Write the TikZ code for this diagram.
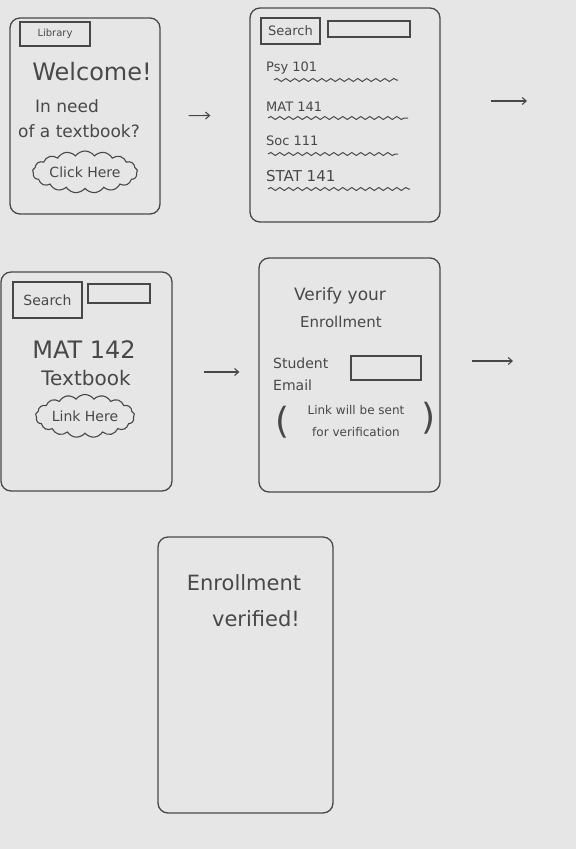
\documentclass[tikz,border=0pt]{standalone}
\usepackage{fontspec}
\setmainfont{DejaVu Sans}
\usetikzlibrary{shapes.symbols,decorations.pathmorphing,arrows.meta}
\definecolor{pencil}{RGB}{72,72,72}
\definecolor{paper}{RGB}{229,230,229}
\newcommand{\penfont}[2]{\fontsize{#1}{#2}\selectfont}

\begin{document}
\begin{tikzpicture}[x=1pt,y=-1pt,
    screen/.style={draw=pencil, line width=1.3pt, rounded corners=10pt, inner sep=0pt},
    tab/.style={draw=pencil, line width=1.1pt, inner sep=0pt, text=pencil},
    ink/.style={text=pencil, inner sep=0pt},
    button/.style={cloud, cloud ignores aspect, draw=pencil, line width=1.1pt, cloud puffs=17,
        cloud puff arc=110, inner sep=0pt, text=pencil},
    wave/.style={draw=pencil, line width=1pt, decorate,
        decoration={snake, amplitude=1.5pt, segment length=9pt}},
    flow/.style={draw=pencil, line width=1.1pt, -{Straight Barb[length=4pt,width=7pt]}}]

    \fill[paper] (0,0) rectangle (576,849);
    \useasboundingbox (0,0) rectangle (576,849);

    % screens
    \node[screen, minimum width=150, minimum height=196] (library) at (85,116) {};
    \node[screen, minimum width=190, minimum height=214] (search) at (345,115) {};
    \node[screen, minimum width=171, minimum height=219] (textbook) at (86.5,381.5) {};
    \node[screen, minimum width=181, minimum height=234] (verify) at (349.5,375) {};
    \node[screen, minimum width=175, minimum height=276] (verified) at (245.5,675) {};

    % library
    \node[tab, minimum width=70, minimum height=24, font=\penfont{10}{12}] (libtab) at (55,34) {Library};
    \node[ink, font=\penfont{24}{28}] (welcome) at (92,72) {Welcome!};
    \node[ink, anchor=west, font=\penfont{17}{20}] (need) at (35,106) {In need};
    \node[ink, anchor=west, font=\penfont{17}{20}] (textq) at (18,131) {of a textbook?};
    \node[button, minimum width=105, minimum height=42, font=\penfont{14}{16}] (click) at (85,172) {Click Here};

    % search
    \node[tab, minimum width=59, minimum height=26, font=\penfont{13}{15}] (searchtab) at (290.5,31) {Search};
    \node[tab, minimum width=82, minimum height=16] (searchbox) at (369,29) {};
    \foreach \i/\course/\size/\y/\wl/\wr/\wy in {1/Psy 101/13/68/274/398/80,
        2/MAT 141/13/107/268/408/118,
        3/Soc 111/13/141/268/398/154,
        4/STAT 141/15/176/268/410/189}
    {
        \node[ink, anchor=west, font=\penfont{\size}{15}] (item\i) at (266,\y) {\course};
        \draw[wave] (\wl,\wy) -- (\wr,\wy);
    }

    % textbook
    \node[tab, minimum width=69, minimum height=36, font=\penfont{14}{16}] (booktab) at (47.5,300) {Search};
    \node[tab, minimum width=62, minimum height=19] (bookbox) at (119,293.5) {};
    \node[ink, font=\penfont{24}{28}] (course) at (84,350) {MAT 142};
    \node[ink, font=\penfont{20}{24}] (book) at (86,378) {Textbook};
    \node[button, minimum width=99, minimum height=43, font=\penfont{14}{16}] (link) at (85,416) {Link Here};

    % verify
    \node[ink, font=\penfont{17}{20}] (title) at (340,296) {Verify your};
    \node[ink, font=\penfont{15}{18}] (enrol) at (341,322) {Enrollment};
    \node[ink, align=left, anchor=west, font=\penfont{14}{22}] (email) at (273,374) {Student\\Email};
    \node[tab, minimum width=70, minimum height=24] (emailbox) at (386,368) {};
    \node[ink, align=center, font=\penfont{12}{22}] (note) at (356,421) {Link will be sent\\for verification};
    \node[ink, font=\penfont{36}{40}] (lparen) at (283,422) {(};
    \node[ink, font=\penfont{36}{40}] (rparen) at (429,418) {)};

    % verified
    \node[ink, align=center, font=\penfont{21}{36}] (done) at (244,601) {Enrollment\\\hspace*{24pt}verified!};

    % flow
    \coordinate (next1) at (527,101);
    \coordinate (next2) at (513,361);
    \coordinate (go) at (222,372);
    \draw[flow, shorten <=28pt, shorten >=39pt] (library) -- (search);
    \draw[flow, shorten <=50pt] (search.east |- next1) -- (next1);
    \draw[flow, shorten <=31pt, shorten >=19pt] (textbook.east |- go) -- (verify.west |- go);
    \draw[flow, shorten <=31pt] (verify.east |- next2) -- (next2);
\end{tikzpicture}
\end{document}
